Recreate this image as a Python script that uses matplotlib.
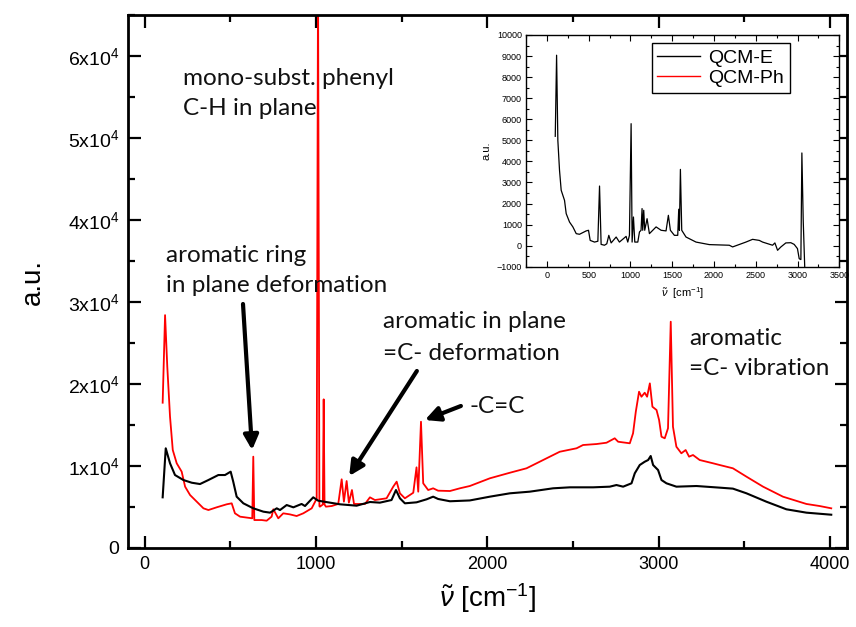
import matplotlib
matplotlib.use("Agg")
from matplotlib import pyplot as plt
from matplotlib.lines import Line2D
from matplotlib.ticker import MultipleLocator, FuncFormatter

plt.rcParams["font.family"] = ["Liberation Sans", "DejaVu Sans"]
plt.rcParams["mathtext.fontset"] = "custom"
plt.rcParams["mathtext.rm"] = "Liberation Sans"
plt.rcParams["mathtext.it"] = "Liberation Sans:italic"

# QCM-E (black) spectrum
e_x = [105, 123, 148, 177, 226, 275, 323, 372, 430, 469, 502, 517, 537, 576, 634,
       693, 732, 771, 790, 829, 868, 916, 936, 984, 1013, 1082, 1140, 1237, 1315,
       1373, 1441, 1467, 1490, 1519, 1587, 1646, 1684, 1713, 1782, 1840, 1898,
       2015, 2132, 2248, 2384, 2482, 2618, 2715, 2754, 2793, 2842, 2861, 2890,
       2919, 2939, 2954, 2968, 2997, 3017, 3046, 3104, 3221, 3357, 3434, 3513,
       3629, 3746, 3863, 4008]
e_y = [6180, 12160, 10330, 8900, 8290, 7960, 7800, 8290, 8900, 8900, 9310, 8090,
       6260, 5450, 4840, 4430, 4310, 4840, 4630, 5240, 4960, 5370, 5120, 6180,
       5770, 5530, 5330, 5160, 5610, 5530, 5850, 7070, 6060, 5450, 5570, 5940,
       6260, 5980, 5700, 5750, 5800, 6260, 6670, 6870, 7280, 7400, 7400, 7480,
       7680, 7480, 7890, 9110, 10120, 10520, 10730, 11220, 10120, 9510, 8290,
       7890, 7480, 7560, 7360, 7240, 6670, 5650, 4720, 4310, 4060]

# QCM-Ph (red) spectrum
ph_x = [105, 119, 132, 148, 164, 187, 216, 236, 265, 304, 343, 372, 420, 479, 508,
        527, 557, 628, 634, 640, 683, 712, 741, 751, 780, 809, 848, 887, 926, 975,
        1000, 1004, 1012, 1020, 1023, 1040, 1045, 1050, 1058, 1092, 1130, 1150,
        1163, 1179, 1192, 1210, 1222, 1286, 1315, 1344, 1412, 1451, 1471, 1490,
        1519, 1568, 1587, 1597, 1613, 1626, 1655, 1684, 1713, 1782, 1840, 1898,
        2015, 2132, 2229, 2326, 2423, 2521, 2559, 2638, 2696, 2744, 2764, 2832,
        2851, 2867, 2886, 2900, 2919, 2933, 2949, 2964, 2988, 3003, 3017, 3036,
        3055, 3071, 3084, 3104, 3133, 3158, 3178, 3201, 3240, 3318, 3357, 3434,
        3513, 3610, 3726, 3863, 3940, 4008]
ph_y = [17720, 28400, 22110, 16010, 11950, 10330, 9310, 7480, 6460, 5650, 4840,
        4630, 4960, 5330, 5450, 4230, 3820, 3620, 11140, 3410, 3410, 3330, 3820,
        4720, 3620, 4230, 4100, 3900, 4230, 4840, 5850, 5900, 70000, 5100, 5040,
        5300, 18130, 5300, 5040, 5120, 5370, 8380, 5650, 8170, 5530, 7070, 5370,
        5370, 6180, 5850, 6060, 7480, 8090, 6670, 6060, 6740, 9840, 6870, 15400,
        7890, 7070, 7280, 6990, 6950, 7280, 7560, 8500, 9180, 9720, 10730, 11740,
        12160, 12560, 12680, 12840, 13380, 12960, 12770, 13990, 16620, 19060,
        18450, 18940, 18450, 20080, 17230, 16830, 15610, 13570, 13380, 14600,
        27600, 14790, 12350, 11550, 11950, 11140, 11340, 10730, 10330, 10120,
        9720, 8700, 7480, 6260, 5370, 5120, 4840]

# inset spectrum
ins_x = [100, 116, 131, 151, 171, 211, 231, 271, 311, 351, 390, 470, 498, 518,
         570, 610, 630, 649, 689, 717, 741, 769, 829, 868, 948, 968, 988, 1008,
         1020, 1036, 1052, 1088, 1108, 1127, 1139, 1147, 1159, 1171, 1199, 1227,
         1287, 1307, 1367, 1426, 1454, 1478, 1526, 1566, 1578, 1586, 1598, 1614,
         1665, 1785, 1944, 2183, 2223, 2382, 2462, 2542, 2582, 2701, 2729, 2761,
         2801, 2860, 2920, 2960, 2999, 3020, 3040, 3052, 3068, 3090]
ins_y = [5190, 9040, 5000, 3580, 2630, 2150, 1520, 1120, 890, 570, 540, 700, 730,
         250, 170, 210, 2830, 60, 20, 90, 490, 130, 410, 170, 440, 170, 490, 5790,
         170, 1360, 170, 170, 650, 730, 1760, 730, 1680, 730, 1280, 570, 810, 890,
         730, 700, 1440, 730, 490, 490, 1730, 730, 3620, 730, 410, 170, 50, 20,
         -60, 170, 300, 250, 170, 20, 130, -220, -60, 130, 140, 60, -140, -620,
         -660, 4400, 1200, -1500]

labels = ["QCM-E", "QCM-Ph"]
colors = ["black", "red"]

fig = plt.figure(figsize=(8.56, 6.27), dpi=100)
ax = fig.add_axes([0.149, 0.126, 0.8405, 0.850])

ax.plot(ph_x, ph_y, color="red", lw=1.3)
ax.plot(e_x, e_y, color="black", lw=1.5)
ax.set_xlim(-100, 4100)
ax.set_ylim(0, 65000)
ax.xaxis.set_major_locator(MultipleLocator(1000))
ax.xaxis.set_minor_locator(MultipleLocator(500))
ax.yaxis.set_major_locator(MultipleLocator(10000))
ax.yaxis.set_minor_locator(MultipleLocator(5000))
ax.yaxis.set_major_formatter(FuncFormatter(
    lambda v, p: "0" if v == 0 else r"$\mathregular{%dx10^4}$" % round(v / 1e4)))
ax.tick_params(which="both", direction="in", top=True, right=True, width=1.6,
               labelsize=13)
ax.tick_params(axis="y", labelsize=14)
ax.tick_params(which="major", length=9, pad=6)
ax.tick_params(which="minor", length=5)
for s in ax.spines.values():
    s.set_linewidth(2)
ax.set_xlabel(r"$\tilde{\nu}$ [cm$^{\mathregular{-1}}$]", fontsize=20, labelpad=6)
ax.set_ylabel("a.u.", fontsize=20, labelpad=16)

# annotations
tf = dict(fontsize=17.5, family=["Lato", "DejaVu Sans"], va="baseline", color="#111111")
ax.text(222, 56460, "mono-subst. phenyl", **tf)
ax.text(222, 52800, "C-H in plane", **tf)
ax.text(123, 34910, "aromatic ring", **tf)
ax.text(123, 31260, "in plane deformation", **tf)
ax.text(1389, 26790, "aromatic in plane", **tf)
ax.text(1389, 22930, "=C- deformation", **tf)
ax.text(1898, 16430, "-C=C", **tf)
ax.text(3178, 24760, "aromatic", **tf)
ax.text(3178, 21100, "=C- vibration", **tf)

ap = dict(arrowstyle="-|>", color="black", lw=3, mutation_scale=22, shrinkA=0, shrinkB=0)
ax.annotate("", xy=(627, 11950), xytext=(574, 29760), arrowprops=ap)
ax.annotate("", xy=(1194, 8780), xytext=(1589, 21590), arrowprops=ap)
ax.annotate("", xy=(1636, 15610), xytext=(1846, 17320), arrowprops=ap)

# inset
ins = fig.add_axes([0.6145, 0.5746, 0.366, 0.3696])
ins.plot(ins_x, ins_y, color="black", lw=0.9)
ins.set_xlim(-250, 3500)
ins.set_ylim(-1000, 10000)
ins.xaxis.set_major_locator(MultipleLocator(500))
ins.xaxis.set_minor_locator(MultipleLocator(250))
ins.yaxis.set_major_locator(MultipleLocator(1000))
ins.yaxis.set_minor_locator(MultipleLocator(500))
ins.tick_params(which="both", direction="in", top=True, right=True, width=0.8,
                labelsize=6.5, pad=3)
ins.tick_params(which="major", length=4)
ins.tick_params(which="minor", length=2)
for s in ins.spines.values():
    s.set_linewidth(1)
ins.set_xlabel(r"$\tilde{\nu}$  [cm$^{\mathregular{-1}}$]", fontsize=8, labelpad=4)
ins.set_ylabel("a.u.", fontsize=8, labelpad=4)
handles = [Line2D([], [], color=c, lw=1) for c in colors]
leg = ins.legend(handles, labels, loc="upper left", bbox_to_anchor=(0.401, 0.964),
                 borderaxespad=0, fontsize=14, fancybox=False, framealpha=1,
                 edgecolor="black", handlelength=2.2, handletextpad=0.4,
                 borderpad=0.3, labelspacing=0.15)
leg.get_frame().set_linewidth(1)

fig.savefig("out.png", dpi=100)
